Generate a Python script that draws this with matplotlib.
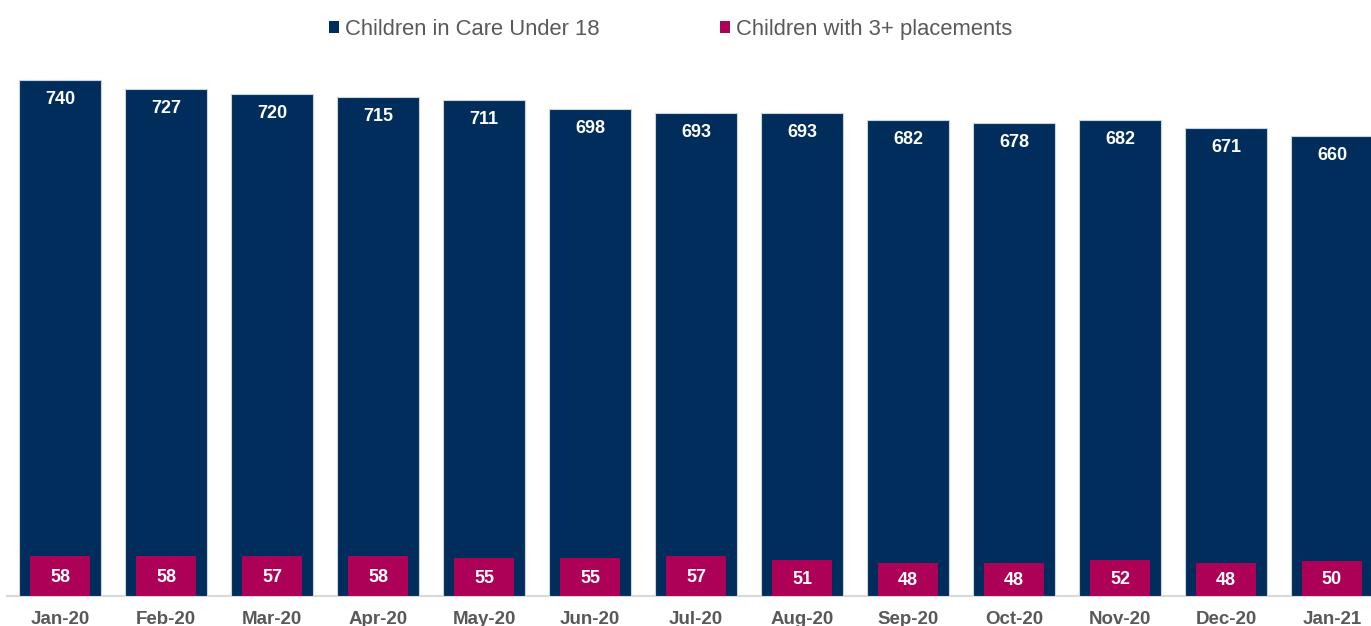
import matplotlib
matplotlib.use("Agg")
import matplotlib.pyplot as plt
from matplotlib.patches import Patch
import numpy as np

plt.rcParams['font.family'] = ['Liberation Sans', 'DejaVu Sans']

months = ["Jan-20", "Feb-20", "Mar-20", "Apr-20", "May-20", "Jun-20", "Jul-20",
          "Aug-20", "Sep-20", "Oct-20", "Nov-20", "Dec-20", "Jan-21"]
in_care = [740, 727, 720, 715, 711, 698, 693, 693, 682, 678, 682, 671, 660]
three_plus = [58, 58, 57, 58, 55, 55, 57, 51, 48, 48, 52, 48, 50]

NAVY = "#002D5B"
MAGENTA = "#AD0057"
GREY = "#595959"

W, H, DPI = 1371, 626, 100
fig = plt.figure(figsize=(W / DPI, H / DPI), dpi=DPI)

# axes laid out in pixels: baseline at y=596, one category = 106 px
cat_px = 106
left_px = 7
base_px = 596
ymax = 800
px_per_unit = 516 / 740
ax = fig.add_axes([left_px / W, (H - base_px) / H,
                   len(months) * cat_px / W, ymax * px_per_unit / H])

x = np.arange(len(months))
b1 = ax.bar(x, in_care, width=0.774, color=NAVY, edgecolor="#c9d2de",
            linewidth=0.8, zorder=2)
b2 = ax.bar(x, three_plus, width=0.557, color=MAGENTA, linewidth=0, zorder=3)

for rect, v in zip(b1, in_care):
    ax.annotate(str(v), (rect.get_x() + rect.get_width() / 2, v),
                xytext=(0, -14), textcoords="offset points",
                ha="center", va="center", color="white",
                fontsize=13, fontweight="bold", zorder=4)
for rect, v in zip(b2, three_plus):
    ax.annotate(str(v), (rect.get_x() + rect.get_width() / 2, v / 2),
                xytext=(0, -1), textcoords="offset points",
                ha="center", va="center", color="white",
                fontsize=13, fontweight="bold", zorder=4)

ax.set_xlim(-0.5, len(months) - 0.5)
ax.set_ylim(0, ymax)
ax.set_xticks(x)
ax.set_xticklabels(months, fontsize=13.5, fontweight="bold", color=GREY)
ax.tick_params(axis="x", length=0, pad=10.5)
ax.set_yticks([])
for s in ("top", "left", "right"):
    ax.spines[s].set_visible(False)
ax.spines["bottom"].set_color("#d9d9d9")
ax.spines["bottom"].set_linewidth(1.5)
ax.spines["bottom"].set_zorder(1)

handles = [Patch(facecolor=NAVY, label="Children in Care Under 18"),
           Patch(facecolor=MAGENTA, label="Children with 3+ placements")]
fig.legend(handles=handles, loc="center left",
           bbox_to_anchor=(329 / W, 1 - 29.5 / H), ncol=2, frameon=False,
           fontsize=15.8, labelcolor=GREY, handlelength=0.45, handleheight=0.45,
           handletextpad=0.27, columnspacing=5.5, borderpad=0, borderaxespad=0)

fig.savefig("out.png", dpi=DPI)
